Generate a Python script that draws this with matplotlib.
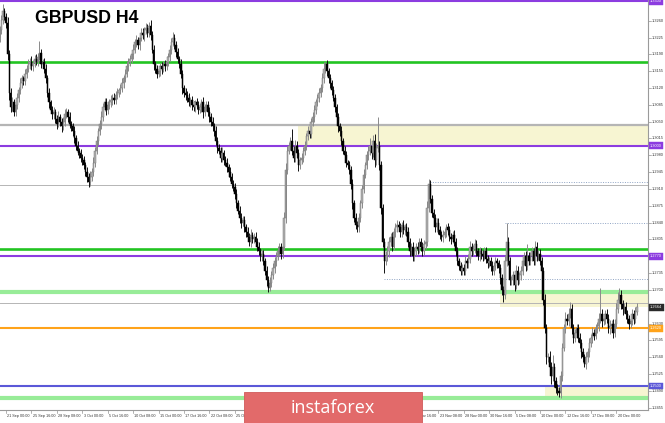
import matplotlib
matplotlib.use('Agg')
import matplotlib.pyplot as plt
import matplotlib.patches as mpatches
import matplotlib.transforms as mtransforms
import numpy as np

title = "GBPUSD H4"
brand = "instaforex"

# H4 candles, 20 Sep 2018 08:00 .. 24 Dec 2018 04:00 ; price = 1 + value/10000
first_open = 3225
closes = [
    3240, 3262, 3280, 3268,
    3255, 3190, 3110, 3080, 3090, 3070,
    3085, 3100, 3115, 3130, 3140, 3135,
    3150, 3160, 3170, 3175, 3165, 3172,
    3180, 3175, 3185, 3192, 3170, 3175,
    3160, 3140, 3110, 3090, 3075, 3065,
    3070, 3055, 3045, 3060, 3050, 3040,
    3050, 3065, 3070, 3060, 3045, 3040,
    3030, 3015, 3000, 2990, 2985, 2975,
    2970, 2960, 2945, 2935, 2925, 2935,
    2945, 2965, 2990, 3010, 3030, 3045,
    3060, 3080, 3090, 3075, 3085, 3090,
    3095, 3100, 3095, 3105, 3110, 3115,
    3120, 3130, 3140, 3150, 3165, 3175,
    3180, 3190, 3200, 3215, 3220, 3210,
    3225, 3235, 3230, 3240, 3245, 3235,
    3250, 3230, 3200, 3170, 3160, 3150,
    3155, 3165, 3160, 3170, 3165, 3175,
    3185, 3200, 3215, 3225, 3210, 3195,
    3180, 3170, 3150, 3120, 3110, 3105,
    3100, 3090, 3095, 3085, 3080, 3090,
    3085, 3075, 3080, 3090, 3070, 3080,
    3085, 3070, 3060, 3050, 3040, 3030,
    3010, 2995, 2990, 2975, 2985, 2970,
    2965, 2955, 2945, 2935, 2920, 2915,
    2900, 2880, 2865, 2850, 2840, 2845,
    2830, 2820, 2810, 2800, 2815, 2805,
    2810, 2800, 2790, 2780, 2770, 2775,
    2760, 2740, 2720, 2705, 2715, 2730,
    2745, 2760, 2770, 2780, 2790, 2775,
    2790, 2850, 2950, 2990, 3000, 3010,
    2990, 2975, 3000, 2985, 2960, 2970,
    2975, 2990, 3000, 3020, 3030, 3025,
    3050, 3060, 3075, 3090, 3100, 3110,
    3120, 3140, 3160, 3170, 3155, 3140,
    3130, 3115, 3100, 3080, 3060, 3040,
    3030, 3010, 2990, 2980, 2965, 2960,
    2950, 2920, 2880, 2850, 2835, 2830,
    2850, 2880, 2910, 2940, 2960, 2980,
    2990, 3000, 2985, 3010, 2970, 2995,
    3000, 2960, 2870, 2800, 2760, 2770,
    2780, 2800, 2810, 2790, 2820, 2830,
    2835, 2830, 2820, 2835, 2825, 2830,
    2820, 2800, 2780, 2790, 2770, 2780,
    2790, 2785, 2800, 2790, 2780, 2795,
    2800, 2870, 2920, 2890, 2860, 2850,
    2830, 2840, 2825, 2815, 2810, 2815,
    2820, 2830, 2825, 2810, 2805, 2815,
    2800, 2780, 2760, 2750, 2740, 2745,
    2740, 2760, 2755, 2765, 2790, 2780,
    2785, 2795, 2780, 2770, 2780, 2775,
    2770, 2780, 2765, 2755, 2760, 2750,
    2740, 2750, 2760, 2755, 2745, 2725,
    2700, 2690, 2760, 2800, 2760, 2720,
    2720, 2730, 2710, 2740, 2720, 2730,
    2740, 2760, 2770, 2750, 2770, 2760,
    2770, 2780, 2760, 2790, 2770, 2775,
    2760, 2740, 2680, 2620, 2560, 2560,
    2540, 2520, 2540, 2510, 2495, 2490,
    2485, 2520, 2580, 2620, 2640, 2635,
    2650, 2660, 2620, 2600, 2610, 2620,
    2600, 2590, 2570, 2560, 2545, 2560,
    2570, 2590, 2600, 2610, 2605, 2620,
    2625, 2640, 2650, 2635, 2640, 2650,
    2640, 2620, 2625, 2630, 2610, 2630,
    2660, 2680, 2690, 2670, 2660, 2665,
    2650, 2640, 2630, 2635, 2650, 2640,
    2655, 2664,
]
up_wick = [
    8, 10, 15, 6,
    8, 12, 10, 9, 12, 8,
    6, 9, 7, 10, 8, 6,
    9, 7, 10, 8, 12, 6,
    8, 10, 7, 25, 9, 6,
    7, 9, 8, 10, 6, 8,
    10, 7, 9, 12, 6, 8,
    9, 11, 8, 7, 10, 6,
    8, 10, 7, 9, 6, 8,
    7, 9, 6, 10, 8, 12,
    9, 11, 8, 10, 7, 9,
    12, 8, 10, 9, 7, 8,
    10, 7, 9, 8, 11, 6,
    8, 10, 7, 9, 12, 8,
    9, 7, 11, 8, 10, 6,
    8, 10, 9, 7, 10, 8,
    8, 12, 9, 10, 7, 8,
    9, 8, 10, 7, 9, 11,
    8, 10, 9, 11, 7, 8,
    9, 7, 10, 8, 6, 9,
    8, 10, 7, 9, 8, 6,
    10, 8, 9, 7, 11, 6,
    9, 8, 10, 7, 9, 8,
    10, 8, 9, 7, 12, 6,
    8, 9, 7, 10, 8, 9,
    7, 10, 8, 9, 11, 8,
    9, 7, 10, 8, 12, 6,
    8, 10, 7, 9, 8, 10,
    9, 7, 10, 8, 12, 9,
    10, 8, 9, 11, 7, 8,
    9, 12, 15, 10, 8, 9,
    25, 10, 12, 9, 8, 7,
    9, 8, 10, 7, 11, 8,
    8, 10, 9, 7, 8, 10,
    9, 11, 15, 5, 8, 7,
    10, 7, 9, 8, 6, 9,
    8, 10, 7, 9, 8, 6,
    9, 8, 10, 7, 9, 8,
    10, 8, 9, 12, 7, 8,
    9, 15, 10, 12, 14, 10,
    60, 10, 9, 8, 7, 10,
    12, 10, 9, 11, 8, 9,
    10, 8, 9, 7, 11, 8,
    9, 10, 8, 7, 9, 8,
    8, 10, 9, 7, 10, 8,
    9, 15, 10, 8, 7, 9,
    8, 10, 9, 7, 8, 10,
    9, 8, 10, 7, 9, 8,
    10, 8, 9, 7, 8, 9,
    8, 10, 7, 9, 11, 8,
    9, 10, 8, 7, 9, 8,
    8, 9, 10, 7, 8, 9,
    10, 8, 9, 7, 8, 9,
    9, 8, 12, 40, 10, 8,
    9, 10, 8, 12, 9, 8,
    10, 9, 8, 11, 25, 8,
    9, 10, 8, 12, 9, 8,
    10, 9, 8, 12, 10, 9,
    12, 10, 25, 9, 8, 10,
    8, 12, 10, 9, 15, 10,
    12, 15, 10, 9, 8, 10,
    9, 10, 8, 9, 7, 10,
    10, 9, 8, 12, 9, 10,
    8, 12, 55, 10, 9, 8,
    10, 9, 12, 8, 10, 9,
    12, 15, 15, 10, 9, 8,
    10, 9, 8, 12, 10, 9,
    10, 8,
]
down_wick = [
    10, 8, 9, 7,
    10, 12, 15, 10, 8, 9,
    9, 8, 10, 7, 9, 8,
    8, 9, 7, 10, 8, 9,
    9, 8, 10, 7, 9, 8,
    8, 10, 9, 12, 8, 9,
    9, 8, 10, 7, 9, 12,
    8, 9, 7, 10, 8, 9,
    9, 10, 8, 9, 11, 8,
    10, 8, 9, 11, 10, 8,
    9, 8, 10, 7, 9, 8,
    10, 9, 8, 12, 9, 8,
    9, 10, 8, 9, 7, 8,
    8, 9, 10, 7, 8, 9,
    9, 8, 10, 7, 9, 8,
    10, 8, 9, 12, 8, 9,
    9, 10, 8, 12, 9, 10,
    8, 9, 10, 7, 9, 8,
    9, 8, 10, 7, 9, 10,
    8, 9, 10, 12, 8, 9,
    10, 8, 9, 11, 8, 9,
    9, 10, 8, 9, 12, 8,
    8, 9, 10, 8, 9, 10,
    9, 10, 8, 9, 8, 10,
    8, 9, 10, 8, 9, 10,
    10, 9, 8, 10, 12, 8,
    9, 10, 8, 9, 10, 8,
    8, 9, 10, 8, 9, 10,
    9, 10, 12, 9, 8, 9,
    8, 9, 10, 8, 9, 10,
    9, 8, 10, 9, 8, 9,
    10, 9, 8, 10, 12, 9,
    8, 9, 10, 8, 9, 10,
    9, 8, 10, 9, 8, 9,
    8, 9, 10, 8, 9, 10,
    9, 10, 8, 9, 10, 12,
    10, 9, 8, 10, 9, 8,
    9, 10, 12, 9, 8, 10,
    9, 8, 10, 9, 8, 9,
    10, 9, 12, 9, 15, 10,
    9, 10, 12, 10, 25, 9,
    10, 12, 9, 10, 8, 9,
    9, 8, 10, 9, 8, 10,
    8, 10, 9, 8, 10, 9,
    9, 10, 8, 9, 10, 8,
    10, 9, 8, 10, 9, 8,
    9, 10, 8, 9, 8, 10,
    8, 9, 10, 8, 9, 8,
    9, 10, 8, 9, 10, 8,
    10, 8, 9, 10, 8, 9,
    8, 9, 10, 8, 9, 10,
    9, 8, 10, 9, 8, 10,
    10, 9, 8, 10, 9, 12,
    10, 15, 9, 10, 8, 9,
    9, 10, 12, 9, 10, 8,
    10, 9, 8, 10, 9, 8,
    9, 10, 8, 9, 10, 8,
    9, 10, 12, 10, 15, 10,
    12, 15, 10, 12, 10, 9,
    8, 10, 9, 8, 10, 9,
    10, 9, 12, 10, 9, 10,
    9, 10, 12, 10, 5, 9,
    10, 9, 8, 10, 9, 8,
    9, 10, 8, 12, 9, 10,
    9, 10, 12, 9, 10, 8,
    10, 9, 8, 10, 12, 9,
    10, 9, 12, 10, 9, 10,
    9, 8,
]

date_labels = [
    "21 Sep 00:00", "25 Sep 16:00", "28 Sep 08:00", "3 Oct 00:00", "5 Oct 16:00",
    "10 Oct 08:00", "15 Oct 00:00", "17 Oct 16:00", "22 Oct 08:00", "25 Oct 00:00",
    "29 Oct 16:00", "1 Nov 08:00", "6 Nov 00:00", "8 Nov 16:00", "13 Nov 08:00",
    "16 Nov 00:00", "20 Nov 16:00", "23 Nov 08:00", "28 Nov 00:00", "30 Nov 16:00",
    "5 Dec 08:00", "10 Dec 00:00", "12 Dec 16:00", "17 Dec 08:00", "20 Dec 00:00",
]
price_tick_labels = [
    "1.2455", "1.2490", "1.2525", "1.2560", "1.2595", "1.2630", "1.2665", "1.2700",
    "1.2735", "1.2770", "1.2805", "1.2840", "1.2875", "1.2910", "1.2945", "1.2980",
    "1.3015", "1.3050", "1.3085", "1.3120", "1.3155", "1.3190", "1.3225", "1.3260",
    "1.3295",
]

purple_levels = [1.3300, 1.3000, 1.2770]
green_levels = [1.3175, 1.2785]
light_green_levels = [1.2695, 1.2476]
gray_levels = [1.3043, 1.2918, 1.2672]
orange_level = 1.2620
blue_level = 1.2500
dotted_levels = [1.2924, 1.2839, 1.2722]
dotted_start_bars = [271, 318, 242]
zone_low = [1.3000, 1.2664, 1.2478]
zone_high = [1.3040, 1.2692, 1.2500]
zone_start_bars = [188, 315, 343]
current_price = 1.2664

# ---------------------------------------------------------------
W, H = 665, 423
AX_W_PX = 648
LOGO_X0, LOGO_X1, LOGO_H = 244, 422, 31
fig = plt.figure(figsize=(W / 100, H / 100), dpi=100)
fig.patch.set_facecolor('white')
ax = fig.add_axes([0, (H - 410) / H, AX_W_PX / W, 410 / H])
ax.set_facecolor('white')

c = np.array(closes) / 10000 + 1
o = np.concatenate([[first_open / 10000 + 1], c[:-1]])
hi = np.maximum(o, c) + np.array(up_wick) / 10000
lo = np.minimum(o, c) - np.array(down_wick) / 10000
idx = np.arange(len(c))
bull = c >= o

ymin, ymax = 1.24502, 1.33031
xmin, xmax = 0.22, 407.96
ax.set_xlim(xmin, xmax)
ax.set_ylim(ymin, ymax)

# zones
for zl, zh, zs in zip(zone_low, zone_high, zone_start_bars):
    ax.fill_between([zs, xmax], zl, zh, color='#f7f5d2', lw=0, zorder=1)

# horizontal levels
for lv in gray_levels:
    lw = 1.6 if lv > 1.30 else 0.7
    ax.axhline(lv, color='#b5b5b5', lw=lw, zorder=2)
for lv in light_green_levels:
    ax.axhline(lv, color='#98ec98', lw=3.0, zorder=2)
for lv, st in zip(dotted_levels, dotted_start_bars):
    ax.plot([st, xmax], [lv, lv], color='#8fa4c4', lw=0.7, ls=(0, (1, 1.5)), zorder=2)
for lv in green_levels:
    ax.axhline(lv, color='#22c422', lw=1.9, zorder=2)
for lv in purple_levels:
    ax.axhline(lv, color='#8c3ce0', lw=1.5, zorder=2)
ax.axhline(orange_level, color='#ffa31a', lw=1.5, zorder=2)
ax.axhline(blue_level, color='#5b58d8', lw=1.5, zorder=2)

# candles
ax.vlines(idx[bull], lo[bull], hi[bull], color='#8a8a8a', lw=0.7, zorder=3)
ax.vlines(idx[~bull], lo[~bull], hi[~bull], color='#111111', lw=0.7, zorder=3)
body_lo = np.minimum(o, c)
body_h = np.maximum(np.abs(c - o), 0.00004)
ax.bar(idx[bull], body_h[bull], bottom=body_lo[bull], width=0.85,
       color='#b0b0b0', edgecolor='#7a7a7a', linewidth=0.35, zorder=4)
ax.bar(idx[~bull], body_h[~bull], bottom=body_lo[~bull], width=0.85,
       color='#000000', edgecolor='#000000', linewidth=0.35, zorder=4)

# axes frame
for s in ['top', 'left']:
    ax.spines[s].set_visible(False)
ax.spines['right'].set_color('#9a9a9a')
ax.spines['right'].set_linewidth(0.8)
ax.spines['bottom'].set_color('#9a9a9a')
ax.spines['bottom'].set_linewidth(0.8)
ax.set_xticks([])
ax.set_yticks([])

# price axis labels
lab_font = dict(family=['Liberation Sans', 'DejaVu Sans'], fontsize=2.8, color='#333333')
ytr = mtransforms.blended_transform_factory(ax.transAxes, ax.transData)
boxed_values = purple_levels + [orange_level, blue_level, current_price]
for k, lab in enumerate(price_tick_labels):
    val = float(lab)
    ax.plot([1.0, 1.004], [val, val], transform=ytr, color='#777777', lw=0.4, clip_on=False)
    if min(abs(val - b) for b in boxed_values) < 0.0008:
        continue
    ax.text(1.006, val, lab, transform=ytr, ha='left', va='center', clip_on=False, **lab_font)


def boxed(val, txt, col):
    ax.text(1.003, val, txt, transform=ytr, ha='left', va='center', clip_on=False,
            family=['Liberation Sans', 'DejaVu Sans'], fontsize=2.8, color='white', zorder=10,
            bbox=dict(boxstyle='square,pad=0.35', fc=col, ec=col, lw=0.3))


for lv in purple_levels:
    boxed(lv, f"{lv:.4f}", '#8c3ce0')
boxed(orange_level, f"{orange_level:.4f}", '#ffa31a')
boxed(blue_level, f"{blue_level:.4f}", '#5b58d8')
boxed(current_price, f"{current_price:.4f}", '#2a2a2a')

# date axis labels (those lying fully under the logo are not visible in the source)
xtr = mtransforms.blended_transform_factory(ax.transData, ax.transAxes)
for k, lab in enumerate(date_labels):
    b = 4 + 16 * k
    x_px = (b - xmin) / (xmax - xmin) * AX_W_PX
    if x_px > LOGO_X0 and x_px + 24 < LOGO_X1:
        continue
    ax.plot([b, b], [0, -0.008], transform=xtr, color='#777777', lw=0.4, clip_on=False)
    ax.text(b + 0.8, -0.0135, lab, transform=xtr, ha='left', va='center', clip_on=False,
            family=['Liberation Sans', 'DejaVu Sans'], fontsize=2.7, color='#333333')

# title
fig.text(35 / W, 1 - 23 / H, title, ha='left', va='baseline',
         family=['Liberation Sans', 'DejaVu Sans'], fontweight='bold',
         fontsize=12.8, color='black')

# brand logo
rect = mpatches.Rectangle((LOGO_X0 / W, 0), (LOGO_X1 - LOGO_X0) / W, LOGO_H / H,
                          transform=fig.transFigure,
                          facecolor='#e26a6a', edgecolor='#d05a5a', lw=0.6, zorder=5)
fig.patches.append(rect)
fig.text(333 / W, (H - 413) / H, brand, ha='center', va='baseline',
         family=['Open Sans', 'DejaVu Sans'], fontsize=13, color='white', zorder=6)

fig.savefig('out.png', dpi=100, facecolor='white')
